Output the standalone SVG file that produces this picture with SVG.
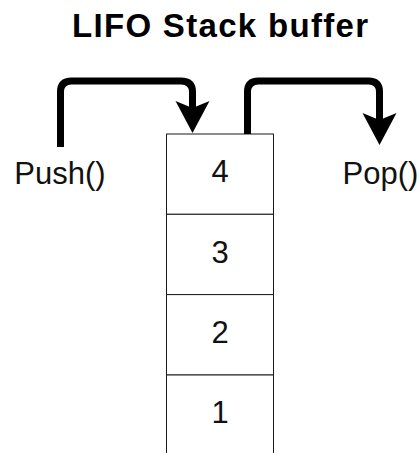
<svg xmlns="http://www.w3.org/2000/svg" width="420" height="453" viewBox="0 0 420 453">
  <style>
    .cell { fill: #ffffff; stroke: #1a1a1a; stroke-width: 1; }
    .num { font-family: "Liberation Sans", Arial, sans-serif; font-size: 31px; fill: #111; text-anchor: middle; }
    .lbl { font-family: "Liberation Sans", Arial, sans-serif; font-size: 31px; fill: #111; text-anchor: middle; }
    .title { font-family: "Liberation Sans", Arial, sans-serif; font-size: 33px; font-weight: bold; fill: #000; text-anchor: middle; }
    .conn { fill: none; stroke: #000; stroke-width: 7; stroke-linejoin: round; }
  </style>
  <defs>
    <marker id="head" markerUnits="userSpaceOnUse" viewBox="-10 -20 40 40" markerWidth="40" markerHeight="40" refX="0" refY="0" orient="auto">
      <path d="M -7 -17 L 25 0 L -7 17 L 0 0 Z" fill="#000"/>
    </marker>
  </defs>

  <g id="title">
    <text class="title" x="220" y="37" textLength="296" lengthAdjust="spacing">LIFO Stack buffer</text>
  </g>

  <g id="stack">
    <g id="cell4">
      <rect class="cell" x="166.5" y="134" width="107" height="80.3"/>
      <text class="num" x="220" y="182">4</text>
    </g>
    <g id="cell3">
      <rect class="cell" x="166.5" y="214.3" width="107" height="80.3"/>
      <text class="num" x="220" y="262.5">3</text>
    </g>
    <g id="cell2">
      <rect class="cell" x="166.5" y="294.6" width="107" height="80.4"/>
      <text class="num" x="220" y="342.8">2</text>
    </g>
    <g id="cell1">
      <rect class="cell" x="166.5" y="375" width="107" height="80.3"/>
      <text class="num" x="220" y="423">1</text>
    </g>
  </g>

  <g id="push">
    <text class="lbl" x="60" y="184">Push()</text>
  </g>
  <g id="pop">
    <text class="lbl" x="380.5" y="184">Pop()</text>
  </g>

  <g id="connectors">
    <path class="conn" d="M 60.5 147 L 60.5 92 Q 60.5 81 71.5 81 L 181 81 Q 192.5 81 192.5 92 L 192.5 108" marker-end="url(#head)"/>
    <path class="conn" d="M 247.5 134 L 247.5 92 Q 247.5 81 258.5 81 L 368.5 81 Q 379.5 81 379.5 92 L 379.5 120" marker-end="url(#head)"/>
  </g>
</svg>
